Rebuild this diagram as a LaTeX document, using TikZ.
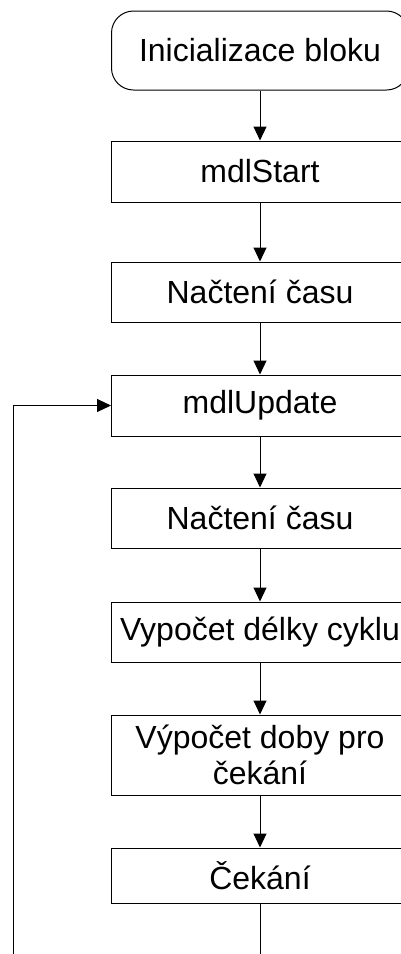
\documentclass[tikz,border=0pt]{standalone}
\usepackage{fontspec}
\setmainfont{Liberation Sans}
\usetikzlibrary{arrows.meta}
\begin{document}
\begin{tikzpicture}[x=1pt,y=-1pt,
 box/.style={draw=black, line width=1pt, minimum width=297pt, inner sep=0pt, font=\fontsize{32}{36}\selectfont, align=center},
 arr/.style={line width=1pt, -{Triangle[length=14pt,width=13pt]}},
 ln/.style={line width=1pt}]
\useasboundingbox (0,0) rectangle (401,954);
\clip (0,0) rectangle (401,954);
\node[box, rounded corners=22pt, minimum height=79pt] (init) at (260,50.5) {Inicializace bloku};
\node[box, minimum height=61pt] (start) at (260,171.5) {mdlStart};
\node[box, minimum height=60pt] (cas1) at (260,292) {Načtení času};
\node[box, minimum height=61pt] (upd) at (260,405.5) {mdlUpdate};
\node[box, minimum height=60pt] (cas2) at (260,518) {Načtení času};
\node[box, minimum height=60pt] (delka) at (260,632) {Vypočet délky cyklu};
\node[box, minimum height=80pt] (doba) at (260,755) {Výpočet doby pro\\čekání};
\node[box, minimum height=55pt] (cek) at (260,875.5) {Čekání};
\coordinate (bot) at (260,960);
\coordinate (lb) at (13.5,960);
\draw[arr] (init) -- (start);
\draw[arr] (start) -- (cas1);
\draw[arr] (cas1) -- (upd);
\draw[arr] (upd) -- (cas2);
\draw[arr] (cas2) -- (delka);
\draw[arr] (delka) -- (doba);
\draw[arr] (doba) -- (cek);
\draw[ln] (cek) -- (bot);
\draw[arr] (lb) |- (upd.west);
\end{tikzpicture}
\end{document}
